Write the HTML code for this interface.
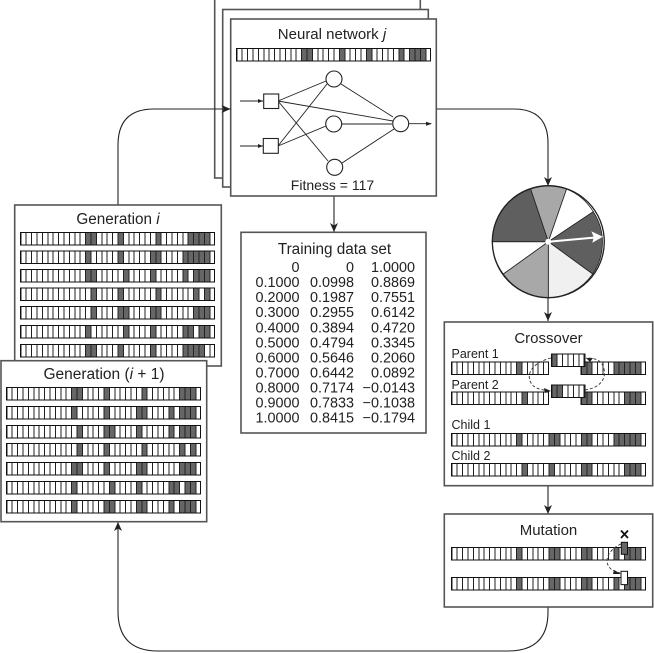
<!DOCTYPE html>
<html><head><meta charset="utf-8"><style>
html,body{margin:0;padding:0;background:#fff}
svg{display:block}
text{font-family:"Liberation Sans",sans-serif;fill:#222}
.t{font-size:15.3px;text-anchor:middle}
.l{font-size:12.5px}
.n{font-size:14.4px;text-anchor:end}
.box{fill:#fff;stroke:#555;stroke-width:1.6}
.w{fill:none;stroke:#222;stroke-width:1.1}
.d{fill:none;stroke:#666;stroke-width:12.5;transform:scale(5.4,1);shape-rendering:crispEdges}
.o{fill:none;stroke:#111;stroke-width:1;shape-rendering:crispEdges}
.g{fill:none;stroke:#222;stroke-width:12.5;stroke-dasharray:1 4.4;shape-rendering:crispEdges}
.da{fill:none;stroke:#333;stroke-width:.9;stroke-dasharray:3 2}
.a{fill:#222}
</style></head><body>
<svg width="654" height="653" viewBox="0 0 654 653" xmlns="http://www.w3.org/2000/svg">
<defs>
<g id="b"><path class="g" d="M0 6.25H194.4"/><rect width="194.4" height="12.5" class="o"/></g>
<g id="ah"><path class="a" d="M-4 -9L0 -6.5L4 -9L0 0Z"/></g>
</defs>

<!-- connectors -->
<path class="w" d="M118 205V145Q118 109 154 109H231"/>
<path class="w" d="M436 109H514Q548 109 548 143V186"/>
<path class="w" d="M334 196V232"/>
<path class="w" d="M548 298V321"/>
<path class="w" d="M548 486V514"/>
<path class="w" d="M548 607V612Q548 651 508 651H158Q118 651 118 611V522"/>
<use href="#ah" transform="translate(334,232)"/>
<use href="#ah" transform="translate(548,186)"/>
<use href="#ah" transform="translate(548,321)"/>
<use href="#ah" transform="translate(548,514)"/>
<use href="#ah" transform="translate(118,522) rotate(180)"/>

<!-- neural network stack -->
<rect class="box" x="214.7" y="-2" width="205.6" height="180"/>
<rect class="box" x="222.7" y="9.5" width="205.6" height="177.5"/>
<rect class="box" x="230.7" y="19" width="205.6" height="177"/>
<path class="w" d="M205 109H231"/>
<use href="#ah" transform="translate(230.5,109) rotate(-90)"/>
<text class="t" x="332" y="39" style="font-size:15px">Neural network <tspan font-style="italic">j</tspan></text>
<g transform="translate(236.3,48.3)"><path class="d" d="M12 6.25h2M19 6.25h1M24 6.25h1M30 6.25h1M32 6.25h3"/><use href="#b"/></g>
<g class="w" style="stroke-width:.9">
<path d="M278 101L326 81M278 101L393 121M278 101L328 161"/>
<path d="M278 146L327 84M278 146L326 126"/>
<path d="M341 84L393 117M342 124H392M342 163L394 129"/>
<path d="M240 101H263M240 146H263M409 123.7H431" />
</g>
<path class="a" d="M263 101l-5 -2v4zM263 146l-5 -2v4zM432 123.7l-6 -2v4z"/>
<rect x="263.7" y="94" width="15" height="14.5" class="box" style="stroke:#222;stroke-width:1.1"/>
<rect x="263.3" y="138.5" width="15" height="14.8" class="box" style="stroke:#222;stroke-width:1.1"/>
<g class="box" style="stroke:#222;stroke-width:1.1">
<circle cx="334" cy="79" r="8"/><circle cx="333.7" cy="124" r="8"/><circle cx="334.7" cy="167.3" r="8"/><circle cx="400.7" cy="123.7" r="8"/>
</g>
<text x="332.5" y="190" style="font-size:14px;text-anchor:middle">Fitness = 117</text>

<!-- generation i -->
<rect class="box" x="14.7" y="205" width="206.6" height="161"/>
<text class="t" x="118" y="224">Generation <tspan font-style="italic">i</tspan></text>
<g transform="translate(20.3,232.3)"><path class="d" d="M12 6.25h2M18 6.25h1M25 6.25h1M31 6.25h4"/><use href="#b"/></g>
<g transform="translate(20.3,251)"><path class="d" d="M12 6.25h1M18 6.25h1M24 6.25h2M30 6.25h5"/><use href="#b"/></g>
<g transform="translate(20.3,269.3)"><path class="d" d="M12 6.25h2M19 6.25h1M24 6.25h1M30 6.25h1M32 6.25h3"/><use href="#b"/></g>
<g transform="translate(20.3,288)"><path class="d" d="M13 6.25h1M18 6.25h1M25 6.25h1M32 6.25h1M34 6.25h1"/><use href="#b"/></g>
<g transform="translate(20.3,306.7)"><path class="d" d="M13 6.25h1M18 6.25h2M24 6.25h2M32 6.25h3"/><use href="#b"/></g>
<g transform="translate(20.3,325.3)"><path class="d" d="M12 6.25h1M19 6.25h1M24 6.25h1M30 6.25h2M33 6.25h2"/><use href="#b"/></g>
<g transform="translate(20.3,344.3)"><path class="d" d="M12 6.25h2M18 6.25h1M24 6.25h1M30 6.25h4"/><use href="#b"/></g>

<!-- generation i+1 -->
<rect class="box" x="1" y="360.7" width="205.7" height="161"/>
<text class="t" x="104" y="379" style="font-size:15.5px">Generation (<tspan font-style="italic">i</tspan> + 1)</text>
<g transform="translate(6.3,387.3)"><path class="d" d="M12 6.25h2M18 6.25h1M25 6.25h1M32 6.25h3"/><use href="#b"/></g>
<g transform="translate(6.3,406.3)"><path class="d" d="M12 6.25h1M18 6.25h1M24 6.25h2M30 6.25h1M32 6.25h3"/><use href="#b"/></g>
<g transform="translate(6.3,425.3)"><path class="d" d="M13 6.25h1M18 6.25h2M24 6.25h1M30 6.25h1M32 6.25h3"/><use href="#b"/></g>
<g transform="translate(6.3,443.7)"><path class="d" d="M13 6.25h1M18 6.25h1M25 6.25h1M32 6.25h1M34 6.25h1"/><use href="#b"/></g>
<g transform="translate(6.3,462.7)"><path class="d" d="M12 6.25h2M18 6.25h1M24 6.25h2M32 6.25h3"/><use href="#b"/></g>
<g transform="translate(6.3,481.7)"><path class="d" d="M12 6.25h1M19 6.25h1M24 6.25h1M30 6.25h2M33 6.25h2"/><use href="#b"/></g>
<g transform="translate(6.3,500.7)"><path class="d" d="M12 6.25h1M18 6.25h2M24 6.25h2M30 6.25h1M32 6.25h3"/><use href="#b"/></g>

<!-- training data -->
<rect class="box" x="241" y="232.3" width="185" height="200.7"/>
<text class="t" x="334.5" y="254">Training data set</text>
<g>
<text class="n" x="299.5" y="272">0</text><text class="n" x="354" y="272">0</text><text class="n" x="415" y="272">1.0000</text>
<text class="n" x="299.5" y="287">0.1000</text><text class="n" x="354" y="287">0.0998</text><text class="n" x="415" y="287">0.8869</text>
<text class="n" x="299.5" y="302">0.2000</text><text class="n" x="354" y="302">0.1987</text><text class="n" x="415" y="302">0.7551</text>
<text class="n" x="299.5" y="317">0.3000</text><text class="n" x="354" y="317">0.2955</text><text class="n" x="415" y="317">0.6142</text>
<text class="n" x="299.5" y="332.5">0.4000</text><text class="n" x="354" y="332.5">0.3894</text><text class="n" x="415" y="332.5">0.4720</text>
<text class="n" x="299.5" y="347.5">0.5000</text><text class="n" x="354" y="347.5">0.4794</text><text class="n" x="415" y="347.5">0.3345</text>
<text class="n" x="299.5" y="362.5">0.6000</text><text class="n" x="354" y="362.5">0.5646</text><text class="n" x="415" y="362.5">0.2060</text>
<text class="n" x="299.5" y="377.5">0.7000</text><text class="n" x="354" y="377.5">0.6442</text><text class="n" x="415" y="377.5">0.0892</text>
<text class="n" x="299.5" y="392.5">0.8000</text><text class="n" x="354" y="392.5">0.7174</text><text class="n" x="415" y="392.5">−0.0143</text>
<text class="n" x="299.5" y="407.5">0.9000</text><text class="n" x="354" y="407.5">0.7833</text><text class="n" x="415" y="407.5">−0.1038</text>
<text class="n" x="299.5" y="422.7">1.0000</text><text class="n" x="354" y="422.7">0.8415</text><text class="n" x="415" y="422.7">−0.1794</text>
</g>

<!-- wheel -->
<g transform="translate(548.3,241.7)" stroke="#222" stroke-width=".8">
<circle r="56" fill="#fff"/>
<path fill="#a8a8a8" d="M0 0L-17.7 -52.7A56 56 0 0 1 18.3 -52.7Z"/>
<path fill="#fff" d="M0 0L18.3 -52.7A56 56 0 0 1 45 -30Z"/>
<path fill="#5f5f5f" d="M0 0L45 -30A56 56 0 0 1 44.4 32.3Z"/>
<path fill="#f0f0f0" d="M0 0L44.4 32.3A56 56 0 0 1 0 56Z"/>
<path fill="#a8a8a8" d="M0 0L0 56A56 56 0 0 1 -45 32.3Z"/>
<path fill="#fff" d="M0 0L-45 32.3A56 56 0 0 1 -56 0Z"/>
<path fill="#5f5f5f" d="M0 0L-56 0A56 56 0 0 1 -17.7 -52.7Z"/>
<circle r="56" fill="none" stroke-width="1.3"/>
<path d="M0 0L51 -4.6" stroke="#fff" stroke-width="2" fill="none"/>
<path d="M54.5 -5L43 -10.5L45.5 -4.5L44 1Z" fill="#fff" stroke="none"/>
<circle r="3" fill="#fff" stroke="none"/>
</g>

<!-- crossover -->
<rect class="box" x="444.3" y="322" width="208.4" height="163.7"/>
<text class="t" x="548.5" y="343" style="font-size:15px">Crossover</text>
<text class="l" x="451.5" y="358">Parent 1</text>
<text class="l" x="451.5" y="389">Parent 2</text>
<text class="l" x="451.5" y="429">Child 1</text>
<text class="l" x="451.5" y="460">Child 2</text>
<g transform="translate(451.3,362)">
<path class="d" d="M12 6.25h1M24 6.25h2M30 6.25h5"/>
<path class="g" d="M0 6.25H97.2"/><rect width="97.2" height="12.5" class="o"/>
<path class="g" d="M129.6 6.25H194.4"/><rect x="129.6" width="64.8" height="12.5" class="o"/>
</g>
<g transform="translate(451.3,392)">
<path class="d" d="M13 6.25h1M24 6.25h2M32 6.25h3"/>
<path class="g" d="M0 6.25H97.2"/><rect width="97.2" height="12.5" class="o"/>
<path class="g" d="M129.6 6.25H194.4"/><rect x="129.6" width="64.8" height="12.5" class="o"/>
</g>
<g transform="translate(551.3,354)">
<rect width="33.5" height="12.5" fill="#fff"/><path class="d" d="M0 6.25h1"/>
<path class="g" d="M0 6.25H33.5"/><rect width="33.5" height="12.5" class="o"/>
</g>
<g transform="translate(551.3,385)">
<rect width="33.5" height="12.5" fill="#fff"/><path class="d" d="M0 6.25h2"/>
<path class="g" d="M0 6.25H33.5"/><rect width="33.5" height="12.5" class="o"/>
</g>
<path class="da" d="M551 358C535 362 525 372 531 383C535 390 545 390 551 391"/>
<path class="da" d="M585 390C600 388 608 378 603 366C600 359 593 358 586 358"/>
<path class="a" d="M551 391l-7 -3l1 5zM586 358l7 0l-3 4z"/>
<g transform="translate(451.3,433.3)"><path class="d" d="M12 6.25h1M18 6.25h2M24 6.25h2M30 6.25h5"/><use href="#b"/></g>
<g transform="translate(451.3,463.3)"><path class="d" d="M13 6.25h1M18 6.25h1M24 6.25h2M32 6.25h3"/><use href="#b"/></g>

<!-- mutation -->
<rect class="box" x="444.3" y="514" width="208.4" height="93"/>
<text class="t" x="548.5" y="535" style="font-size:15px">Mutation</text>
<g transform="translate(451.3,547.5)"><path class="d" d="M12 6.25h1M18 6.25h2M24 6.25h2M30 6.25h1M32 6.25h3"/><use href="#b"/></g>
<g transform="translate(451.3,577.5)"><path class="d" d="M12 6.25h1M18 6.25h2M24 6.25h2M30 6.25h1M32 6.25h3"/><use href="#b"/></g>
<rect x="621.3" y="542.3" width="6.2" height="12" fill="#666" stroke="#111"/>
<rect x="621" y="571.3" width="6.5" height="13.3" fill="#fff" stroke="#111"/>
<path d="M621 530.5L628 538M628 530.5L621 538" stroke="#111" stroke-width="1.8" fill="none"/>
<path class="da" d="M621 544C608 550 602 562 612 570C614 571 617 572 620 573"/>
<path class="a" d="M621 574l-7 -4l-1 4z"/>
</svg>
</body></html>
